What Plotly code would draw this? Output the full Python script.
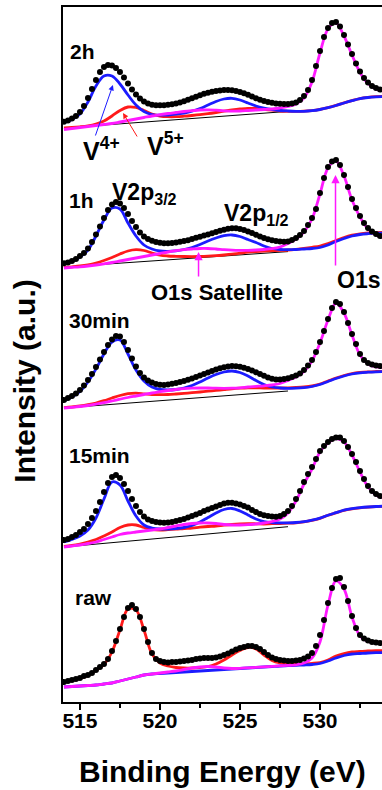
import plotly.graph_objects as go

# ---------------------------------------------------------------------------
# V 2p / O 1s XPS spectra of the samples, stacked vertically.
# Intensities are in arbitrary units measured from each spectrum's own
# low-energy background level.
# ---------------------------------------------------------------------------

# Binding-energy sampling (eV): measured points every 0.25 eV, fitted
# components every 0.5 eV.
energy_scan = [514 + 0.25 * i for i in range(80)]
energy_fit = [514 + 0.5 * i for i in range(41)]
bg_energy = [514.0, 528.0]

samples = ["raw", "15min", "30min", "1h", "2h"]
stack_offsets = [15, 155, 294, 434, 574]

# ---- measured spectra (black dots) ----------------------------------------
scan_raw = [
    5, 6, 7, 8, 9, 11, 12, 14, 17, 20, 23, 28, 36, 46, 58, 70,
    79, 82, 78, 70, 58, 45, 34, 28, 26, 25, 24.5, 25, 25, 25.5, 26, 26.5,
    27, 28, 28.5, 29, 29, 29, 29.5, 30.5, 32, 33.5, 35.5, 37.5, 39, 40, 41, 41,
    40, 38, 35, 32, 29.5, 28, 27, 26.5, 26, 26, 26.5, 27, 28.5, 30.5, 34, 41,
    52, 67, 84, 99, 108, 109, 100, 86, 71, 59, 52, 48.5, 46.5, 45, 44.5, 44,
]
scan_15min = [
    7, 8, 10, 12, 15, 18, 23, 29, 36, 45, 55, 64, 70, 72, 69, 63,
    56, 48, 41, 35, 30.5, 27.5, 26, 25, 24.5, 24.3, 24.5, 25, 26, 27, 28, 29.5,
    31, 32.5, 34, 36, 37.5, 39, 40.5, 42, 43.5, 44.3, 44.3, 43.5, 42.5, 41, 39.5, 37,
    35, 33, 31.8, 31, 30.5, 30.3, 31, 33, 36, 41, 48, 56, 65, 73, 80, 88,
    96, 101, 105, 108, 109.5, 109.5, 106, 100, 93, 85, 76, 68, 61, 56, 53, 51,
]
scan_30min = [
    8, 10, 12, 14.5, 18, 22.5, 28, 34, 41, 48.5, 56, 63, 68.5, 72, 71.5, 66,
    58, 49.5, 41.5, 35, 30.5, 27.5, 25.5, 24, 23.2, 23, 23.5, 24.2, 25, 26, 27, 28.2,
    29.5, 31, 32.5, 34, 35.5, 37, 38.5, 39.8, 40.8, 41.6, 42, 41.8, 41.2, 40.2, 39, 37.5,
    35.8, 34, 32.2, 30.5, 29.3, 28.6, 28.5, 29, 29.8, 31, 32.5, 34.5, 38, 42.5, 48, 56,
    66, 77, 89, 100, 106, 104, 96, 85, 74, 64, 54, 48, 45, 43.5, 42.5, 42,
]
scan_1h = [
    4.7, 5.5, 7, 9, 12, 15, 19.5, 26, 33.5, 41.5, 50, 58, 63.5, 66, 64.5, 60,
    54, 47, 41, 35.5, 31.5, 29, 27.3, 26, 25.2, 24.8, 24.7, 25, 25.5, 26.2, 27, 27.8,
    29, 30.2, 31.3, 32.5, 33.5, 34.7, 36, 37.3, 38.3, 39.2, 39.7, 39.7, 39, 38, 36.5, 35,
    33.3, 31.5, 30, 28.7, 27.8, 27, 26.5, 26.3, 26.5, 28, 30, 33, 37, 43, 50, 59,
    75, 90, 101, 106.5, 108, 103, 93, 81, 69, 60, 52, 45, 40, 36.5, 34, 32,
]
scan_2h = [
    6.3, 7.5, 9.5, 12, 16, 22, 30, 39, 48, 56, 61, 63, 62.5, 60, 56, 50.5,
    44.5, 38.5, 33.5, 29.5, 26.5, 24.5, 23.3, 22.8, 22.7, 22.8, 23.2, 23.8, 24.6, 25.6, 26.8, 28.2,
    29.8, 31.3, 32.8, 34.2, 35.3, 36.2, 37, 37.6, 38, 38.1, 37.8, 37, 36, 34.8, 33.3, 31.5,
    29.8, 28.2, 27, 26, 25.2, 24.6, 24.2, 24, 24, 24.5, 25.5, 28, 32, 38, 48, 62,
    77, 91, 100, 105, 106, 101.5, 93, 83.5, 74, 64.5, 56.5, 50, 45.5, 42, 40, 38.5,
]

# ---- fitted components (component + background) ---------------------------
# blue: V4+ doublet, red: V5+ doublet, magenta: O 1s + O 1s satellite
fit_v4_raw = [
    0, 0.5, 1, 1.5, 2, 3, 4, 6, 8, 10, 12, 13, 13.5, 14, 14.5, 15, 15.5, 16, 16.5, 17,
    17.5, 18, 18.5, 19, 19.5, 20, 20.5, 21, 21.3, 21.6, 22, 22.5, 23.5, 26, 29, 31.5,
    33, 33.5, 34, 34.3, 34.5,
]
fit_v5_raw = [
    4.5, 6.5, 8.5, 11.5, 16.5, 22.5, 35, 57, 78, 77, 57, 33, 24, 21, 19.5, 19, 19, 19.5,
    20.5, 23, 27, 32, 36.5, 39.5, 38, 32, 26.5, 24, 23, 23, 23.3, 23.7, 24.5, 27, 31,
    33.5, 35, 35.5, 36, 36.3, 36.5,
]
fit_o1s_raw = [
    0, 0.5, 1, 1.5, 2, 3, 4, 6, 8, 10, 12, 13, 14, 15, 16, 17.5, 19, 20, 20.5, 20,
    19, 18.5, 18.7, 19.2, 19.7, 20.2, 20.7, 21.2, 21.6, 22.2, 24, 29, 45, 82, 106, 98,
    70, 51, 45.5, 44, 43.5,
]

fit_v4_15min = [
    5, 7.5, 11, 17, 29, 48, 65, 62, 46, 31, 22, 19, 18, 18, 18.5, 19.5, 21.5, 25, 29.5, 34,
    37.5, 38.5, 36, 32, 28, 25.5, 24.5, 24.2, 24.2, 24.5, 25.3, 26.8, 28.8, 31.8, 34.3, 36.8,
    38.3, 39.3, 40, 40.5, 40.8,
]
fit_v5_15min = [
    0.5, 1.5, 3, 5, 7.5, 11, 15, 19.5, 22, 22, 19.5, 17.5, 17, 17.3, 17.8, 18.5, 19, 19.8,
    20.5, 21, 21.8, 22.5, 23, 23.3, 23.2, 23, 23.3, 23.5, 23.8, 24.2, 25.2, 26.7, 28.7, 31.7,
    34.2, 36.7, 38.2, 39.2, 39.9, 40.4, 40.7,
]
fit_o1s_15min = [
    0, 1, 2, 3.5, 5, 7.5, 10, 12.5, 14, 15, 16, 17, 18, 19.5, 21, 22.5, 23.5, 24, 24, 23.5,
    22.5, 22, 22, 22.3, 23, 24, 25.5, 28, 34, 46, 63, 78, 95, 104, 108.5, 105, 92, 75, 60,
    52, 49,
]

fit_v4_30min = [
    7, 11, 16.5, 26, 39, 54, 66, 68, 54, 38, 27, 21, 18.5, 18, 18.5, 20, 22.5, 26, 30, 33.5,
    36, 37, 35.5, 32, 27.5, 23.5, 21, 20, 19.7, 19.8, 20.3, 21.5, 23.5, 26.5, 29.5, 32, 34,
    35.2, 35.8, 36.2, 36.4,
]
fit_v5_30min = [
    0.3, 1, 2, 3.3, 5, 7.3, 10, 12.5, 14.3, 14.8, 14.2, 13.5, 13.3, 13.5, 14, 14.6, 15.3, 16,
    16.8, 17.6, 18.4, 19.2, 19.8, 20.2, 20.2, 20, 20, 20, 20.2, 20.5, 21, 22, 24, 27, 30,
    32.5, 34.5, 35.6, 36.2, 36.5, 36.7,
]
fit_o1s_30min = [
    0, 0.7, 1.5, 2.5, 3.8, 5.3, 7, 8.8, 10.5, 12, 13.5, 15, 16.3, 17.5, 18.5, 19.3, 19.8, 20,
    20, 19.8, 19.7, 19.8, 20.2, 21, 21.6, 22.2, 23, 24.5, 27.5, 31, 36.5, 47, 65, 88, 105,
    95, 73, 53, 44, 41, 40.5,
]

fit_v4_1h = [
    4.5, 6.5, 11, 18, 32, 48, 60, 59, 45, 32, 23, 19, 17, 16.7, 17.2, 18.5, 20.5, 23.5, 27, 30,
    32.3, 33, 31.5, 28.5, 25.5, 22, 19.5, 18.5, 18.3, 18.5, 19, 19.5, 20.5, 23, 26.5, 29.5,
    32, 33.5, 34.3, 34.8, 35,
]
fit_v5_1h = [
    0.5, 1.2, 2, 3.2, 5, 7.5, 10.5, 14, 17, 18.3, 17.5, 15, 12.8, 12, 11.7, 11.5, 11.4, 11.5,
    11.8, 12.3, 13, 13.8, 14.8, 15.8, 16.5, 17, 17.3, 17.6, 18, 18.7, 19.6, 20.7, 22, 24.5,
    27.5, 30.5, 32.8, 34.2, 35, 35.4, 35.6,
]
fit_o1s_1h = [
    0, 0.6, 1.2, 2, 3, 4.2, 5.5, 7, 8.5, 10, 11.5, 13, 14.5, 16, 17.3, 18.3, 19, 19.5, 19.5,
    19, 18.3, 17.8, 17.6, 17.7, 18, 18.5, 19.3, 21, 24.5, 29, 36, 49, 74, 100, 107, 92, 68,
    51, 39, 33, 30,
]

fit_v4_2h = [
    5.5, 8.5, 14, 26, 42, 52, 52, 44, 33, 23, 16.5, 13.5, 12.8, 13, 13.8, 15, 16.8, 19.5, 23,
    26.5, 29, 29.7, 28, 25, 22, 20, 18.5, 17.5, 17, 16.7, 16.7, 17.3, 18.5, 20.3, 22.5, 25,
    27.3, 29.3, 30.5, 31.2, 31.5,
]
fit_v5_2h = [
    0, 0.5, 1.2, 2.2, 4, 7, 12, 17.5, 21, 20.5, 17.5, 14, 12, 11.3, 11.3, 11.8, 12.5, 13.3,
    14.3, 15.5, 16.8, 18, 19, 19.7, 19.5, 18.7, 17.8, 17, 16.7, 16.6, 16.8, 17.4, 18.6, 20.4,
    22.6, 25.1, 27.4, 29.4, 30.6, 31.3, 31.6,
]
fit_o1s_2h = [
    -1.5, -0.5, 0.5, 1.5, 2.5, 3.5, 4.5, 6, 7.5, 9, 10.5, 12, 13.3, 14.5, 15.5, 16.5, 17.3,
    18, 18.2, 17.8, 17.2, 16.8, 17, 17.5, 18, 18.5, 19, 20, 21.5, 24, 30, 46, 75, 99, 105,
    92, 73, 55.5, 44.5, 39, 37,
]

# ---- linear background under the V 2p region (thin black line) -------------
bg_line_raw = [0, 21]
bg_line_15min = [0, 20.3]
bg_line_30min = [0, 17]
bg_line_1h = [1, 16.4]
bg_line_2h = [0, 16.6]

scans = [scan_raw, scan_15min, scan_30min, scan_1h, scan_2h]
fits_v4 = [fit_v4_raw, fit_v4_15min, fit_v4_30min, fit_v4_1h, fit_v4_2h]
fits_v5 = [fit_v5_raw, fit_v5_15min, fit_v5_30min, fit_v5_1h, fit_v5_2h]
fits_o1s = [fit_o1s_raw, fit_o1s_15min, fit_o1s_30min, fit_o1s_1h, fit_o1s_2h]
bg_lines = [bg_line_raw, bg_line_15min, bg_line_30min, bg_line_1h, bg_line_2h]

BLUE = "#1c1cff"
RED = "#ff1a1a"
MAGENTA = "#ff19ff"
FONT = "Liberation Sans, Arial, sans-serif"

fig = go.Figure()

for i, name in enumerate(samples):
    off = stack_offsets[i]
    if name != "raw":
        fig.add_trace(go.Scatter(
            x=bg_energy, y=[v + off for v in bg_lines[i]], mode="lines",
            line=dict(color="black", width=1), hoverinfo="skip"))
    for comp, color in ((fits_v5[i], RED), (fits_v4[i], BLUE), (fits_o1s[i], MAGENTA)):
        fig.add_trace(go.Scatter(
            x=energy_fit, y=[v + off for v in comp], mode="lines",
            line=dict(color=color, width=2.8, shape="spline", smoothing=1.0),
            hoverinfo="skip"))
    fig.add_trace(go.Scatter(
        x=energy_scan, y=[v + off for v in scans[i]], mode="markers",
        marker=dict(color="black", size=6, line=dict(width=0)),
        name=name))

annotations = []


def label(text, x, y, size, xanchor="left", color="black"):
    annotations.append(dict(
        text=text, x=x, y=y, xref="x", yref="y", showarrow=False,
        xanchor=xanchor, yanchor="middle",
        font=dict(family=FONT, size=size, color=color, weight="bold")))


def arrow(x, y, ax, ay, color, width):
    annotations.append(dict(
        text="", x=x, y=y, xref="x", yref="y", ax=ax, ay=ay, showarrow=True,
        arrowhead=2, arrowsize=1.1, arrowwidth=width, arrowcolor=color))


# sample names
label("2h", 514.25, 651, 21)
label("1h", 514.19, 502, 21)
label("30min", 514.19, 382, 21)
label("15min", 514.19, 247, 21)
label("raw", 514.56, 105, 21)

# peak assignments
label("V2p<sub>3/2</sub>", 516.85, 509, 23)
label("V2p<sub>1/2</sub>", 523.85, 488, 23)
label("O1s Satellite", 523.56, 410, 22, xanchor="center")
label("O1s", 530.94, 422, 23)
label("V<sup>4+</sup>", 515.05, 553, 25)
label("V<sup>5+</sup>", 519.05, 558, 25)

arrow(522.41, 450, 0, 26, MAGENTA, 1.5)
arrow(530.97, 527, 0, 92, MAGENTA, 1.5)
arrow(517.06, 617, -18, 52, BLUE, 1)
arrow(517.69, 589, 15, 25, RED, 1)

# axis titles
annotations.append(dict(
    text="Binding Energy (eV)", xref="paper", yref="paper", x=0.5, y=-0.0993,
    xanchor="center", yanchor="middle", showarrow=False,
    font=dict(family=FONT, size=30, color="black", weight="bold")))
annotations.append(dict(
    text="Intensity (a.u.)", xref="paper", yref="paper", x=-0.119, y=0.461,
    xanchor="center", yanchor="middle", showarrow=False, textangle=-90,
    font=dict(family=FONT, size=30, color="black", weight="bold")))

fig.update_layout(
    width=382, height=790,
    margin=dict(l=63, r=0, t=7, b=88),
    paper_bgcolor="white", plot_bgcolor="white",
    showlegend=False,
    annotations=annotations,
    xaxis=dict(
        range=[513.94, 533.875], tickmode="array", tickvals=[515, 520, 525, 530],
        ticks="outside", ticklen=6, tickwidth=1.5, tickcolor="black",
        ticklabelstandoff=-7,
        showline=True, linewidth=1.5, linecolor="black", mirror=True,
        showgrid=False, zeroline=False,
        tickfont=dict(family=FONT, size=21, color="black", weight="bold"),
        minor=dict(tickmode="array", tickvals=[517.5, 522.5, 527.5, 532.5],
                   ticks="outside", ticklen=4, tickwidth=1.5, tickcolor="black"),
    ),
    yaxis=dict(
        range=[0, 695], showticklabels=False, ticks="",
        showline=True, linewidth=1.5, linecolor="black", mirror=False,
        showgrid=False, zeroline=False,
    ),
)

fig.write_html("out.html")
